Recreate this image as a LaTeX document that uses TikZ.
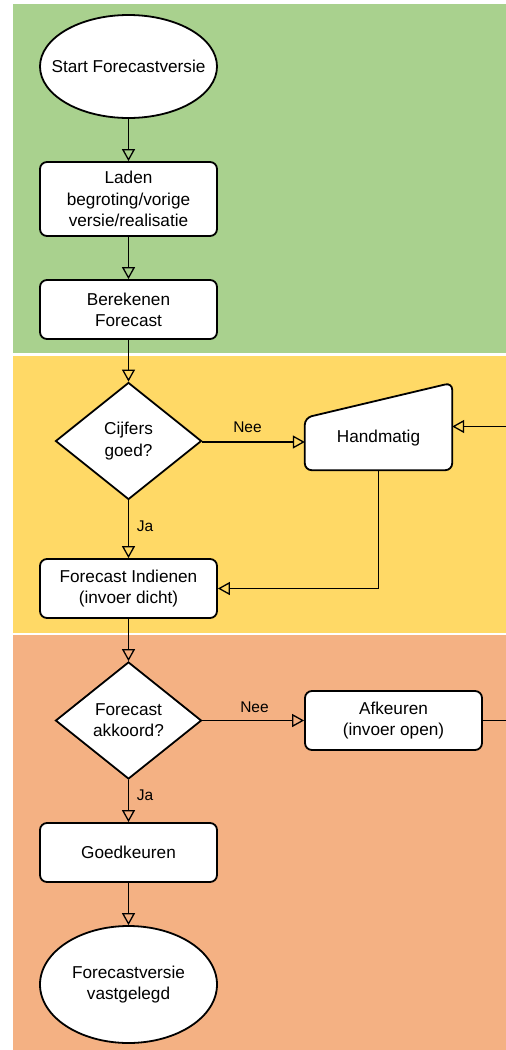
\documentclass[tikz,border=0pt]{standalone}
\usepackage{fontspec}
\setmainfont{Liberation Sans}
\usetikzlibrary{shapes.geometric,arrows.meta,calc}
\definecolor{bandgreen}{HTML}{A9D18E}
\definecolor{bandyellow}{HTML}{FFD966}
\definecolor{bandorange}{HTML}{F4B183}
\newcommand{\mainfs}{\fontsize{17.2}{21.3}\selectfont}
\newcommand{\labfs}{\fontsize{15.5}{18}\selectfont}
\begin{document}
\begin{tikzpicture}[x=1pt,y=-1pt,
  box/.style={draw, line width=1.8pt, fill=white, rounded corners=7pt, minimum width=177pt, align=center, inner sep=0pt, font=\mainfs},
  term/.style={draw, ellipse, line width=1.8pt, fill=white, minimum width=177pt, align=center, inner xsep=-25pt, inner ysep=-5pt, font=\mainfs},
  decision/.style={draw, diamond, line width=1.8pt, fill=white, minimum width=146pt, minimum height=117pt, align=center, inner sep=0pt, font=\mainfs},
  flow/.style={line width=1.3pt, -{Triangle[open, length=12pt, width=13pt]}},
  plainflow/.style={line width=1.3pt},
  edgelab/.style={font=\labfs, inner sep=0pt},
  ghost/.style={inner sep=0pt, minimum width=147pt, minimum height=87pt}
]
\useasboundingbox (0,0) rectangle (506,1050);
% bands
\fill[bandgreen] (13,4) rectangle (506,353.3);
\fill[bandyellow] (13,355.7) rectangle (506,632.5);
\fill[bandorange] (13,634.7) rectangle (506,1050);

% nodes
\node[term, minimum height=103pt] (start) at (128.5,66.5) {Start Forecastversie};
\node[box, minimum height=74pt] (laden) at (128.5,199) {Laden\\begroting/vorige\\versie/realisatie};
\node[box, minimum height=59pt] (ber) at (128.5,309.5) {Berekenen\\Forecast};
\node[decision] (cij) at (128.5,441) {Cijfers\\goed?};
\node[ghost] (hm) at (378.5,426.5) {};
\draw[line width=1.8pt, fill=white, rounded corners=7pt]
  (hm.south west) -- ($(hm.north west)+(0,35)$) -- (hm.north east) -- (hm.south east) -- cycle;
\node[font=\mainfs, inner sep=0pt] (hmt) at (378.5,438) {Handmatig};
\node[box, minimum height=59pt] (fi) at (128.5,588.5) {Forecast Indienen\\(invoer dicht)};
\node[decision] (fa) at (128.5,720.5) {Forecast\\akkoord?};
\node[box, minimum height=59pt] (af) at (393.5,720.5) {Afkeuren\\(invoer open)};
\node[box, minimum height=59pt] (goed) at (128.5,852.5) {Goedkeuren};
\node[term, minimum height=117pt] (end) at (128.5,984.5) {Forecastversie\\vastgelegd};

\coordinate (rin) at (506,426.5);
\coordinate (rout) at (506,720.5);

% connectors
\draw[flow] (start) -- (laden);
\draw[flow] (laden) -- (ber);
\draw[flow] (ber) -- (cij);
\draw[flow] ($(cij.east)+(0,1)$) -- ($(cij.east -| hm.west)+(0,1)$);
\draw[flow] (rin) -- (hm.east);
\draw[flow] (hm.south) |- (fi.east);
\draw[flow] (cij) -- (fi);
\draw[flow] (fi) -- (fa);
\draw[flow] (fa.east) -- (af.west);
\draw[plainflow] (af.east) -- (rout);
\draw[flow] (fa) -- (goed);
\draw[flow] (goed) -- (end);

% labels
\node[edgelab] (nee1) at (247.5,427) {Nee};
\node[edgelab] (ja1) at (145,526) {Ja};
\node[edgelab] (nee2) at (254.5,707) {Nee};
\node[edgelab] (ja2) at (145,795) {Ja};
\end{tikzpicture}
\end{document}
